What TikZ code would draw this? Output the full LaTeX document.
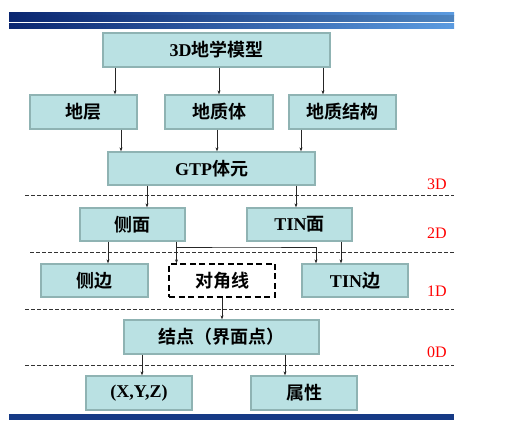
\documentclass[tikz,border=0pt]{standalone}
\usepackage{fontspec}
\setmainfont{Liberation Serif}
\newfontfamily\cjk{Noto Sans CJK SC}[BoldFont={* Bold}]
\newfontfamily\lat{Liberation Serif}
\usetikzlibrary{arrows.meta}
\definecolor{boxfill}{HTML}{BAE1E3}
\definecolor{boxline}{HTML}{8FB3B3}
\definecolor{navy}{HTML}{163A85}
\definecolor{barL}{HTML}{0A2670}
\definecolor{barR}{HTML}{5B9BE0}
\tikzset{
  gbox/.style={draw=boxline, line width=1.3pt, fill=boxfill, rectangle, inner sep=0pt,
     font=\fontsize{18}{18}\selectfont\bfseries},
  dbox/.style={draw=black, line width=1.3pt, dash pattern=on 6pt off 3.5pt, fill=white, rectangle, inner sep=0pt,
     font=\fontsize{18}{18}\selectfont\bfseries},
  arr/.style={draw=black!85, line width=0.6pt, -{Stealth[length=4pt,width=3pt]}},
  sep/.style={draw=black!80, line width=0.7pt, dash pattern=on 3.5pt off 2.5pt},
  dimlab/.style={text=red, font=\fontsize{16}{16}\selectfont\lat, inner sep=0pt}
}
\begin{document}
\begin{tikzpicture}[x=1pt,y=-1pt]
\useasboundingbox (0,0) rectangle (530,435);
% top bars
\shade[left color=barL, right color=barR] (9,12.7) rectangle (454,15.2);
\shade[left color=barL, right color=barR!85!black] (9,15.8) rectangle (454,21.2);
\shade[left color=barL, right color=barR] (9,23.3) rectangle (454,28.7);
% bottom bar
\fill[navy] (9,414) rectangle (454,420);
% separators
\draw[sep] (25,195.7) -- (454,195.7);
\draw[sep] (30,252) -- (454,252);
\draw[sep] (25,309) -- (454,309);
\draw[sep] (25,365) -- (454,365);
% dimension labels
\node[dimlab] (l3) at (437,184) {3D};
\node[dimlab] (l2) at (437,233) {2D};
\node[dimlab] (l1) at (437,291) {1D};
\node[dimlab] (l0) at (437,352) {0D};
% boxes
\node[gbox, minimum width=227pt, minimum height=34pt] (m3d) at (216.5,50) {{\lat 3D}{\cjk 地学模型}};
\node[gbox, minimum width=107pt, minimum height=34pt] (dc) at (83.5,112) {\cjk 地层};
\node[gbox, minimum width=108pt, minimum height=34pt] (dzt) at (219,112) {\cjk 地质体};
\node[gbox, minimum width=107pt, minimum height=34pt] (dzjg) at (342.5,112) {\cjk 地质结构};
\node[gbox, minimum width=207pt, minimum height=33pt] (gtp) at (211.5,168.5) {{\lat GTP}{\cjk 体元}};
\node[gbox, minimum width=105pt, minimum height=33pt] (cm) at (132.5,224.5) {\cjk 侧面};
\node[gbox, minimum width=105pt, minimum height=33pt] (tinm) at (299.5,224.5) {{\lat TIN}{\cjk 面}};
\node[gbox, minimum width=107pt, minimum height=33pt] (cb) at (94.5,280.5) {\cjk 侧边};
\node[dbox, minimum width=106pt, minimum height=33pt] (djx) at (222,280.5) {\cjk 对角线};
\node[gbox, minimum width=106pt, minimum height=33pt] (tinb) at (355,280.5) {{\lat TIN}{\cjk 边}};
\node[gbox, minimum width=195pt, minimum height=34pt] (jd) at (221.5,337) {\cjk 结点（界面点）};
\node[gbox, minimum width=106pt, minimum height=34pt] (xyz) at (139,393) {\lat (X,Y,Z)};
\node[gbox, minimum width=106pt, minimum height=34pt] (sx) at (304,393) {\cjk 属性};
% arrows
\draw[arr] (m3d.south -| 115,0) -- (dc.north -| 115,0);
\draw[arr] (m3d.south -| 219,0) -- (dzt.north -| 219,0);
\draw[arr] (m3d.south -| 323,0) -- (dzjg.north -| 323,0);
\draw[arr] (dc.south -| 121,0) -- (gtp.north -| 121,0);
\draw[arr] (dzt.south -| 217,0) -- (gtp.north -| 217,0);
\draw[arr] (dzjg.south -| 301,0) -- (gtp.north -| 301,0);
\draw[arr] (gtp.south -| 147,0) -- (cm.north -| 147,0);
\draw[arr] (gtp.south -| 296,0) -- (tinm.north -| 296,0);
\draw[arr] (cm.south -| 108,0) -- (cb.north -| 108,0);
\draw[arr] (cm.south -| 176.5,0) -- (djx.north -| 176.5,0);
\draw[arr] (cm.south -| 176.5,0) |- (247,247) -| (tinb.north -| 316,0);
\draw[arr] (tinm.south -| 341,0) -- (tinb.north -| 341,0);
\draw[arr] (djx.south) -- (jd.north -| djx.south);
\draw[arr] (jd.south -| 142,0) -- (xyz.north -| 142,0);
\draw[arr] (jd.south -| 285,0) -- (sx.north -| 285,0);
\end{tikzpicture}
\end{document}
